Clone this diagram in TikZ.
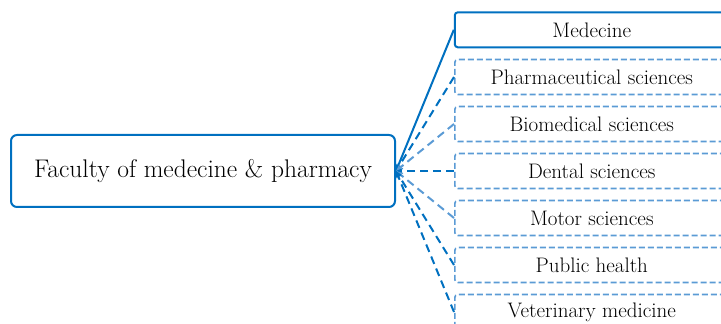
\documentclass[tikz,border=0pt]{standalone}
\usetikzlibrary{arrows.meta,positioning}
\definecolor{deepblue}{RGB}{0,112,192}
\definecolor{paleblue}{RGB}{91,155,213}
\tikzset{
  unitbox/.style={draw=paleblue, line width=1.6pt, dash pattern=on 6pt off 3pt, rounded corners=3pt, minimum width=274pt, minimum height=35pt, font=\fontsize{21}{23}\selectfont},
  mainlink/.style={draw=deepblue, line width=2pt, -{Stealth[length=7pt,width=6pt]}},
  sidelink/.style={draw=paleblue, line width=2pt, dash pattern=on 8pt off 5pt, -{Stealth[length=7pt,width=6pt]}}
}

\begin{document}
\begin{tikzpicture}[x=1pt, y=1pt]
\useasboundingbox (0,0) rectangle (721,324);
\clip (0,0) rectangle (721,324);
\node[draw=deepblue, line width=2pt, rounded corners=6pt, minimum width=384pt, minimum height=72pt, font=\fontsize{25.5}{28}\selectfont] (faculty) at (203,153) {Faculty of medecine \& pharmacy};
% faculties
\node[unitbox, right=58pt of faculty] (dental) {Dental sciences};
\node[unitbox, above=10.4pt of dental] (biomed) {Biomedical sciences};
\node[unitbox, above=10.4pt of biomed] (pharma) {Pharmaceutical sciences};
\node[unitbox, above=10.4pt of pharma, draw=deepblue, solid, line width=2pt] (medecine) {Medecine};
\node[unitbox, below=10.4pt of dental] (motor) {Motor sciences};
\node[unitbox, below=10.4pt of motor] (health) {Public health};
\node[unitbox, below=10.4pt of health] (vet) {Veterinary medicine};
% links
\draw[mainlink] (medecine.west) -- (faculty.east);
\draw[mainlink, dash pattern=on 8pt off 5pt] (pharma.west) -- (faculty.east);
\draw[sidelink] (biomed.west) -- (faculty.east);
\draw[mainlink, dash pattern=on 8pt off 5pt] (dental.west) -- (faculty.east);
\draw[sidelink] (motor.west) -- (faculty.east);
\draw[mainlink, dash pattern=on 8pt off 5pt] (health.west) -- (faculty.east);
\draw[mainlink, dash pattern=on 8pt off 5pt] (vet.west) -- (faculty.east);
\end{tikzpicture}
\end{document}
